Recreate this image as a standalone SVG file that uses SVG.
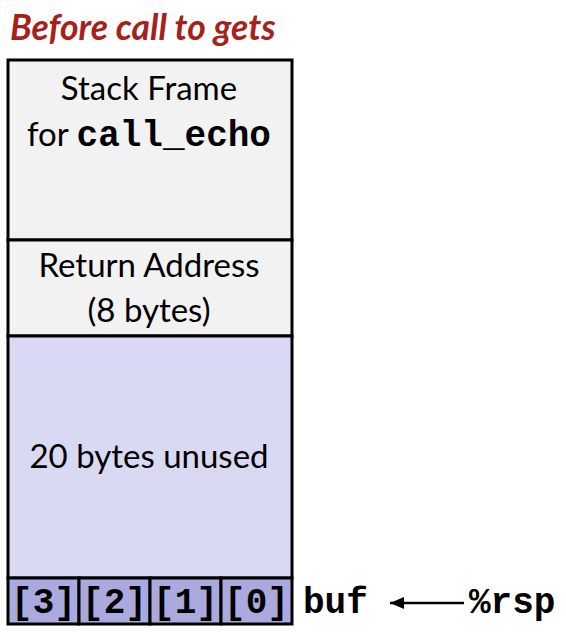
<svg xmlns="http://www.w3.org/2000/svg" width="566" height="634" viewBox="0 0 566 634">
<defs>
<marker id="ah" markerWidth="14" markerHeight="12" refX="14" refY="6" orient="auto" markerUnits="userSpaceOnUse"><path d="M0,0 L14,6 L0,12 z" fill="#000"/></marker>
<style>
.t{font-family:Lato,"Open Sans","Liberation Sans",sans-serif;font-size:33px;fill:#000;text-anchor:middle}
.m{font-family:"Liberation Mono","Courier New",monospace;font-weight:bold;font-size:36px;fill:#000}
.box{stroke:#000;stroke-width:3}
</style>
</defs>
<text x="10" y="40" font-family="Lato,'Open Sans','Liberation Sans',sans-serif" font-weight="bold" font-style="italic" font-size="35.5" fill="#a6211a">Before call to gets</text>
<g id="frame"><rect class="box" x="8" y="60" width="284" height="180" fill="#f2f2f2"/>
<text class="t" x="149" y="100">Stack Frame</text>
<text class="t" x="149" y="146"><tspan>for </tspan><tspan class="m">call_echo</tspan></text></g>
<g id="ret"><rect class="box" x="8" y="240" width="284" height="96" fill="#f2f2f2"/>
<text class="t" x="149" y="277">Return Address</text>
<text class="t" x="149" y="322">(8 bytes)</text></g>
<g id="unused"><rect class="box" x="8" y="336" width="284" height="242" fill="#d9d9f3"/>
<text class="t" x="149" y="468">20 bytes unused</text></g>
<g id="buf">
<rect class="box" x="8" y="578" width="71" height="46" fill="#aaaade"/>
<rect class="box" x="79" y="578" width="71" height="46" fill="#aaaade"/>
<rect class="box" x="150" y="578" width="71" height="46" fill="#aaaade"/>
<rect class="box" x="221" y="578" width="71" height="46" fill="#aaaade"/>
<text class="m" x="43.5" y="613" text-anchor="middle" font-size="34">[3]</text>
<text class="m" x="114.5" y="613" text-anchor="middle" font-size="34">[2]</text>
<text class="m" x="185.5" y="613" text-anchor="middle" font-size="34">[1]</text>
<text class="m" x="256.5" y="613" text-anchor="middle" font-size="34">[0]</text>
</g>
<g id="labels">
<text class="m" x="303" y="613">buf</text>
<text class="m" x="469" y="613">%rsp</text>
</g>
<g id="connectors">
<line x1="464" y1="603" x2="390" y2="603" stroke="#000" stroke-width="2.5" marker-end="url(#ah)"/>
</g>
</svg>
